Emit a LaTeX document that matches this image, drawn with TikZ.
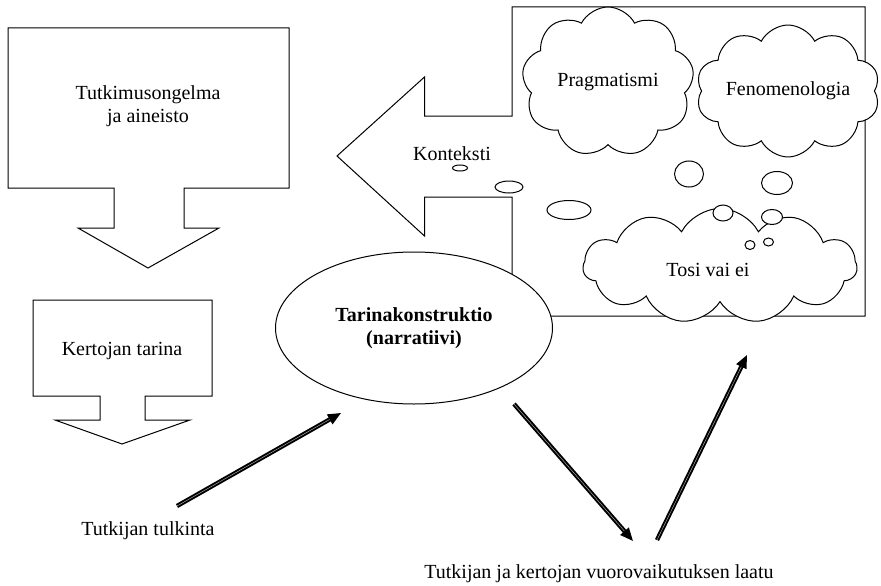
\documentclass[tikz,border=0pt]{standalone}
\usepackage{fontspec}
\setmainfont{Liberation Serif}
\usetikzlibrary{shapes.symbols,shapes.geometric,arrows.meta}

\begin{document}
\begin{tikzpicture}
	[x=1pt,y=-1pt,line width=1pt,
	every node/.style={font=\fontsize{20}{23}\selectfont,align=center},
	callout/.style={draw,line join=miter,fill=white},
	thought/.style={cloud,draw,fill=white,cloud puffs=10,cloud puff arc=125,cloud ignores aspect,inner sep=0pt},
	bubble/.style={ellipse,draw,fill=white,inner sep=0pt},
	bigarrow/.style={draw,double=gray!50,double distance=0.4pt,line width=2pt,-{Triangle[length=13pt,width=11pt]}}]
	\useasboundingbox (0,0) rectangle (881,586);
	% vasen puoli
	\draw[callout] (8,28) -- (289,28) -- (289,188) -- (184,188) -- (184,228) -- (219,228) -- (148,268)
		-- (78,228) -- (114,228) -- (114,188) -- (8,188) -- cycle;
	\node (ongelma) at (148,106) {Tutkimusongelma\\ja aineisto};
	\draw[callout] (33,300) -- (212,300) -- (212,396) -- (145,396) -- (145,420) -- (190,420) -- (122,444)
		-- (55,420) -- (100,420) -- (100,396) -- (33,396) -- cycle;
	\node (tarina) at (122,351) {Kertojan tarina};
	% konteksti
	\draw[callout] (512,7) -- (865,7) -- (865,316) -- (512,316) -- (512,197) -- (424.5,197) -- (424.5,236)
		-- (337,156) -- (424.5,77) -- (424.5,116) -- (512,116) -- cycle;
	\node (konteksti) at (452,154) {Konteksti};
	\node[ellipse,draw,fill=white,minimum width=277,minimum height=152] (narr) at (414,328)
		{\textbf{Tarinakonstruktio}\\\textbf{(narratiivi)}};
	\node[thought,cloud puffs=9,minimum width=172,minimum height=150] (prag) at (608,82) {Pragmatismi};
	\node[thought,minimum width=184,minimum height=132] (feno) at (788,91) {Fenomenologia};
	\node[thought,cloud puffs=11,minimum width=274,minimum height=115,
		label={[xshift=-12pt,yshift=-4pt]center:Tosi vai ei}] (tosi) at (720,266) {};
	% kuplat
	\node[bubble,minimum width=15,minimum height=6] (k1) at (460,168) {};
	\node[bubble,minimum width=28,minimum height=12] (k2) at (509,187) {};
	\node[bubble,minimum width=44,minimum height=19] (k3) at (569,210) {};
	\node[bubble,minimum width=29,minimum height=26] (k4) at (689,174) {};
	\node[bubble,minimum width=31,minimum height=23] (k5) at (777,183) {};
	\node[bubble,minimum width=20,minimum height=16] (k6) at (723,213) {};
	\node[bubble,minimum width=21,minimum height=15] (k7) at (772,217) {};
	\node[bubble,minimum width=10,minimum height=9] (k8) at (750,245) {};
	\node[bubble,minimum width=10,minimum height=8] (k9) at (768.5,242) {};
	% nuolet
	\node (tulkinta) at (148,531) {Tutkijan tulkinta};
	\node (laatu) at (599,574) {Tutkijan ja kertojan vuorovaikutuksen laatu};
	\coordinate (t1) at (177,506);
	\coordinate (t2) at (341,413);
	\coordinate (v1) at (514,404);
	\coordinate (v2) at (633,541);
	\coordinate (v3) at (657,540);
	\coordinate (v4) at (747,355);
	\draw[bigarrow] (t1) -- (t2);
	\draw[bigarrow] (v1) -- (v2);
	\draw[bigarrow] (v3) -- (v4);
\end{tikzpicture}
\end{document}
